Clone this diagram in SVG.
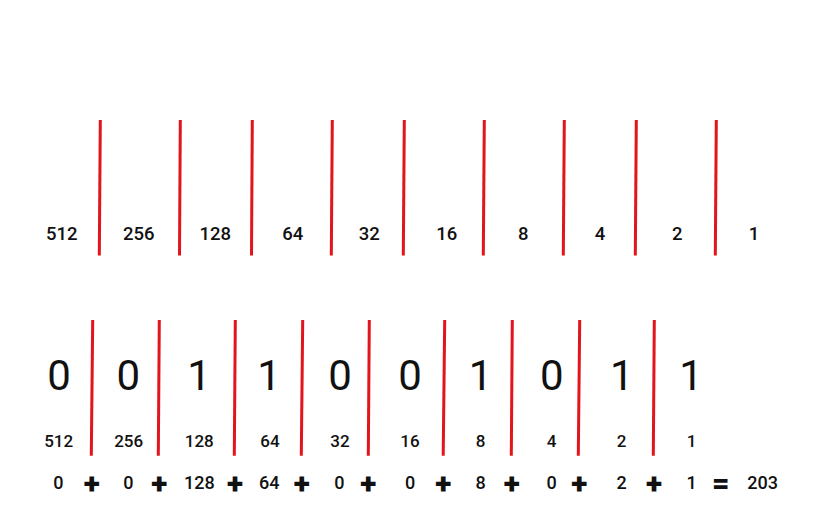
<svg xmlns="http://www.w3.org/2000/svg" width="816" height="528" viewBox="0 0 816 528">
<style>
.bg{fill:#ffffff}
.div{stroke:#e3141c;stroke-width:3;stroke-linecap:butt}
.lbl{font-family:Roboto,"Liberation Sans",sans-serif;font-size:18.5px;font-weight:500;fill:#111;text-anchor:middle}
.sub{font-family:Roboto,"Liberation Sans",sans-serif;font-size:17px;font-weight:500;fill:#111;text-anchor:middle}
.bit{font-family:Roboto,"Liberation Sans",sans-serif;font-size:42px;font-weight:400;fill:#111;text-anchor:middle}
.sum{font-family:Roboto,"Liberation Sans",sans-serif;font-size:18px;font-weight:500;fill:#111;text-anchor:middle}
.op{font-family:Roboto,"Liberation Sans",sans-serif;font-size:30px;font-weight:900;fill:#111;text-anchor:middle}
</style>
<rect class="bg" x="0" y="0" width="816" height="528"/>
<g id="top-dividers">
<line class="div" x1="100.3" y1="120" x2="99.3" y2="255.5"/>
<line class="div" x1="180.3" y1="120" x2="179.5" y2="255.5"/>
<line class="div" x1="252.3" y1="120" x2="251.5" y2="255.5"/>
<line class="div" x1="332.3" y1="120" x2="331.3" y2="255.5"/>
<line class="div" x1="404.3" y1="120" x2="403.3" y2="255.5"/>
<line class="div" x1="484.3" y1="120" x2="483.3" y2="255.5"/>
<line class="div" x1="564.3" y1="120" x2="563.3" y2="255.5"/>
<line class="div" x1="636.3" y1="120" x2="635.3" y2="255.5"/>
<line class="div" x1="716.3" y1="120" x2="715.3" y2="255.5"/>
</g>
<g id="top-labels">
<text class="lbl" x="61.7" y="239.5">512</text>
<text class="lbl" x="138.7" y="239.5">256</text>
<text class="lbl" x="215.3" y="239.5">128</text>
<text class="lbl" x="292.7" y="239.5">64</text>
<text class="lbl" x="369.3" y="239.5">32</text>
<text class="lbl" x="446.7" y="239.5">16</text>
<text class="lbl" x="523.3" y="239.5">8</text>
<text class="lbl" x="600" y="239.5">4</text>
<text class="lbl" x="677.3" y="239.5">2</text>
<text class="lbl" x="754" y="239.5">1</text>
</g>
<g id="bottom-dividers">
<line class="div" x1="92.7" y1="320" x2="91.3" y2="455.7"/>
<line class="div" x1="159.3" y1="320" x2="158.3" y2="455.7"/>
<line class="div" x1="235.3" y1="320" x2="234.3" y2="455.7"/>
<line class="div" x1="302.7" y1="320" x2="301.3" y2="455.7"/>
<line class="div" x1="369.3" y1="320" x2="368.3" y2="455.7"/>
<line class="div" x1="444.7" y1="320" x2="443.2" y2="455.7"/>
<line class="div" x1="512.3" y1="320" x2="511.3" y2="455.7"/>
<line class="div" x1="579.7" y1="320" x2="578.3" y2="455.7"/>
<line class="div" x1="654.3" y1="320" x2="653.3" y2="455.7"/>
</g>
<g id="bits">
<text class="bit" x="59" y="389.5">0</text>
<text class="bit" x="128.3" y="389.5">0</text>
<text class="bit" x="199" y="389.5">1</text>
<text class="bit" x="269" y="389.5">1</text>
<text class="bit" x="340" y="389.5">0</text>
<text class="bit" x="410" y="389.5">0</text>
<text class="bit" x="480.5" y="389.5">1</text>
<text class="bit" x="551.7" y="389.5">0</text>
<text class="bit" x="621.7" y="389.5">1</text>
<text class="bit" x="691" y="389.5">1</text>
</g>
<g id="weights">
<text class="sub" x="58.7" y="447.3">512</text>
<text class="sub" x="128.7" y="447.3">256</text>
<text class="sub" x="199.3" y="447.3">128</text>
<text class="sub" x="270" y="447.3">64</text>
<text class="sub" x="340" y="447.3">32</text>
<text class="sub" x="410" y="447.3">16</text>
<text class="sub" x="480.7" y="447.3">8</text>
<text class="sub" x="551.7" y="447.3">4</text>
<text class="sub" x="621.7" y="447.3">2</text>
<text class="sub" x="691.7" y="447.3">1</text>
</g>
<g id="sum">
<text class="sum" x="58.3" y="489.3">0</text>
<text class="op" x="91.7" y="494">+</text>
<text class="sum" x="128.3" y="489.3">0</text>
<text class="op" x="159.3" y="494">+</text>
<text class="sum" x="199.3" y="489.3">128</text>
<text class="op" x="235" y="494">+</text>
<text class="sum" x="269.3" y="489.3">64</text>
<text class="op" x="301.7" y="494">+</text>
<text class="sum" x="339.3" y="489.3">0</text>
<text class="op" x="368.3" y="494">+</text>
<text class="sum" x="410" y="489.3">0</text>
<text class="op" x="443.3" y="494">+</text>
<text class="sum" x="480.7" y="489.3">8</text>
<text class="op" x="511.7" y="494">+</text>
<text class="sum" x="551.7" y="489.3">0</text>
<text class="op" x="579.3" y="494">+</text>
<text class="sum" x="621.7" y="489.3">2</text>
<text class="op" x="654" y="494">+</text>
<text class="sum" x="691.7" y="489.3">1</text>
<text class="op" x="720.7" y="493">=</text>
<text class="sum" x="762.7" y="489.3">203</text>
</g>
</svg>
